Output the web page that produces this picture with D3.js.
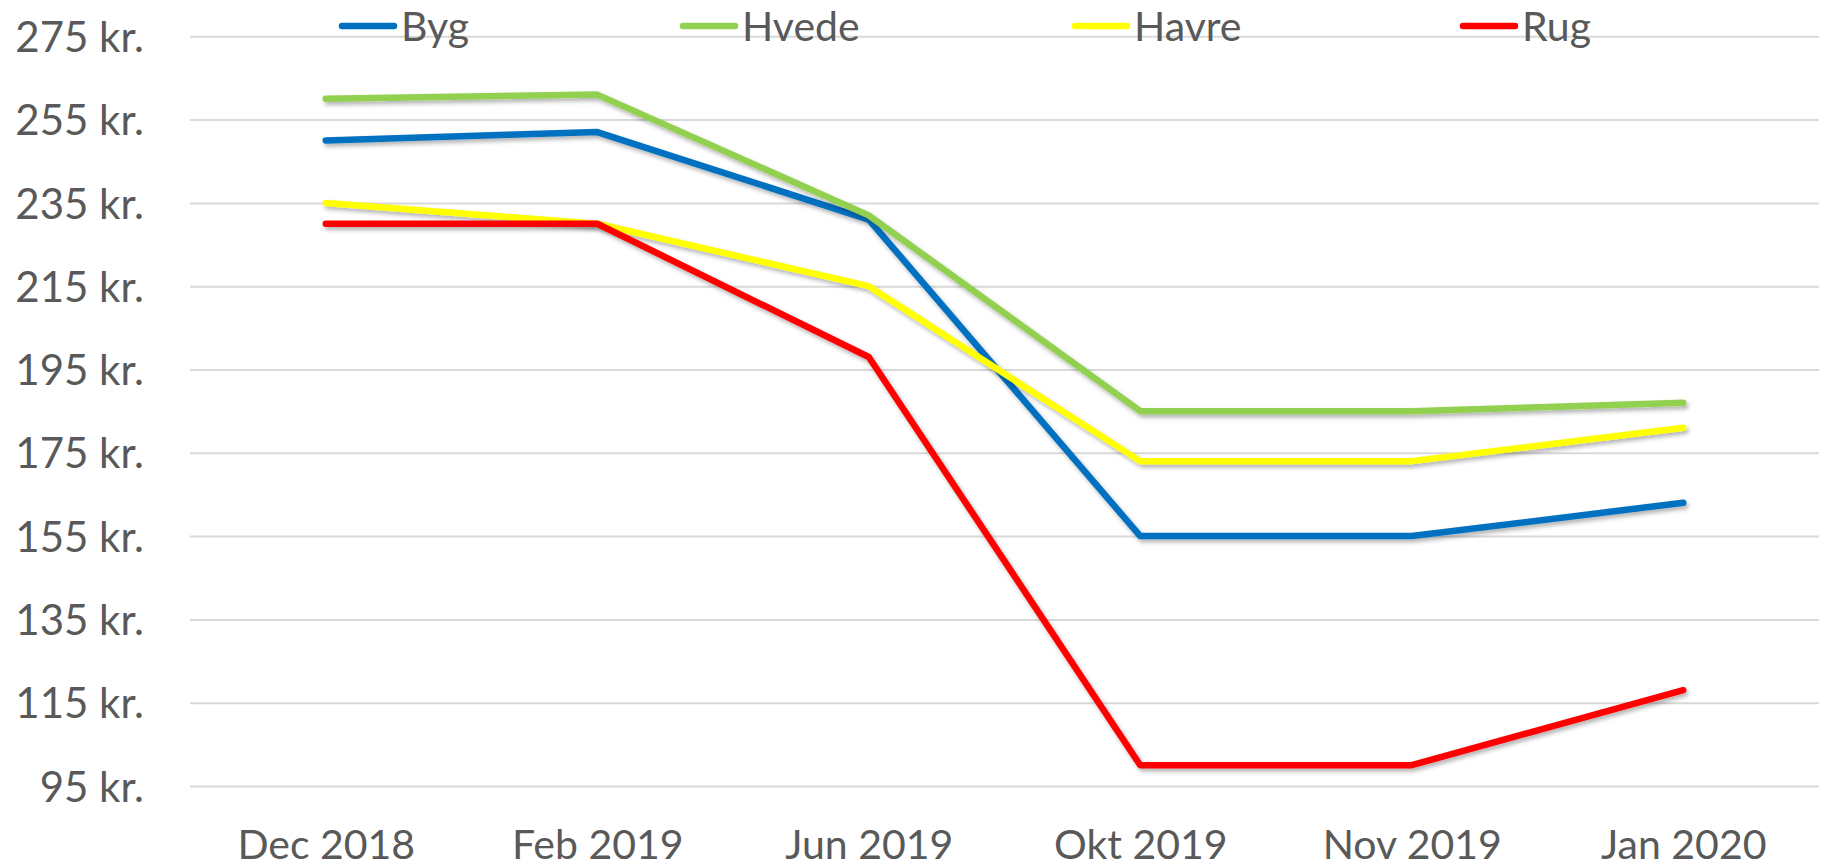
<!DOCTYPE html>
<html>
<head>
<meta charset="utf-8">
<script src="https://cdn.jsdelivr.net/npm/d3@7"></script>
<style>
  body { margin: 0; background: #fff; }
  svg { display: block; font-family: Lato, "Open Sans", sans-serif; }
</style>
</head>
<body>
<div id="chart"></div>
<script>
const categories = ["Dec 2018", "Feb 2019", "Jun 2019", "Okt 2019", "Nov 2019", "Jan 2020"];
const byg   = [250, 252, 231, 155, 155, 163];
const hvede = [260, 261, 232, 185, 185, 187];
const havre = [235, 230, 215, 173, 173, 181];
const rug   = [230, 230, 198, 100, 100, 118];
const seriesNames = ["Byg", "Hvede", "Havre", "Rug"];
const yTicks = [95, 115, 135, 155, 175, 195, 215, 235, 255, 275];

const colors = ["#0070c0", "#92d050", "#ffff00", "#ff0000"];
const series = [byg, hvede, havre, rug].map((values, i) => ({name: seriesNames[i], values, color: colors[i]}));

const W = 1831, H = 868;
const plot = {left: 190, right: 1819, top: 36.3, bottom: 786};

const svg = d3.select("#chart").append("svg")
  .attr("width", W)
  .attr("height", H);

// soft shadow like the excel line style
const defs = svg.append("defs");
defs.append("filter")
  .attr("id", "shadow")
  .attr("x", "-5%").attr("y", "-5%")
  .attr("width", "110%").attr("height", "110%")
  .append("feDropShadow")
  .attr("dx", 2).attr("dy", 3)
  .attr("stdDeviation", 2)
  .attr("flood-color", "#000")
  .attr("flood-opacity", 0.3);

const x = d3.scalePoint()
  .domain(categories)
  .range([plot.left, plot.right])
  .padding(0.5);

const y = d3.scaleLinear()
  .domain([95, 275])
  .range([plot.bottom, plot.top]);

// gridlines + y labels
const yAxis = svg.append("g")
  .attr("transform", `translate(${plot.left},0)`)
  .call(d3.axisLeft(y)
    .tickValues(yTicks)
    .tickSize(-(plot.right - plot.left))
    .tickPadding(46)
    .tickFormat(d => d + " kr."));
yAxis.select(".domain").remove();
yAxis.selectAll(".tick line")
  .attr("stroke", "#d9d9d9")
  .attr("stroke-width", 2);
yAxis.selectAll(".tick text")
  .attr("fill", "#595959")
  .attr("font-size", 42)
  .attr("font-family", "Lato, sans-serif")
  .attr("dy", "0.36em");

// x labels
const xAxis = svg.append("g")
  .attr("transform", `translate(0,${plot.bottom})`)
  .call(d3.axisBottom(x).tickSize(0));
xAxis.select(".domain").remove();
xAxis.selectAll(".tick text")
  .attr("fill", "#595959")
  .attr("font-size", 41)
  .attr("font-family", "Lato, sans-serif")
  .attr("y", 73)
  .attr("dy", 0);

// lines
const line = d3.line()
  .x((d, i) => x(categories[i]))
  .y(d => y(d));

svg.append("g")
  .selectAll("path")
  .data(series)
  .enter()
  .append("path")
  .attr("d", d => line(d.values))
  .attr("fill", "none")
  .attr("stroke", d => d.color)
  .attr("stroke-width", 6.5)
  .attr("stroke-linecap", "round")
  .attr("stroke-linejoin", "round")
  .attr("filter", "url(#shadow)");

// legend
const legendX = [342, 683, 1075, 1463];
const legend = svg.append("g")
  .selectAll("g")
  .data(series)
  .enter()
  .append("g")
  .attr("transform", (d, i) => `translate(${legendX[i]},26)`);

legend.append("line")
  .attr("x1", 0).attr("x2", 52)
  .attr("stroke", d => d.color)
  .attr("stroke-width", 6.5)
  .attr("stroke-linecap", "round");

legend.append("text")
  .attr("x", 59)
  .attr("dy", "0.36em")
  .attr("fill", "#595959")
  .attr("font-size", 41)
  .text(d => d.name);
</script>
</body>
</html>
